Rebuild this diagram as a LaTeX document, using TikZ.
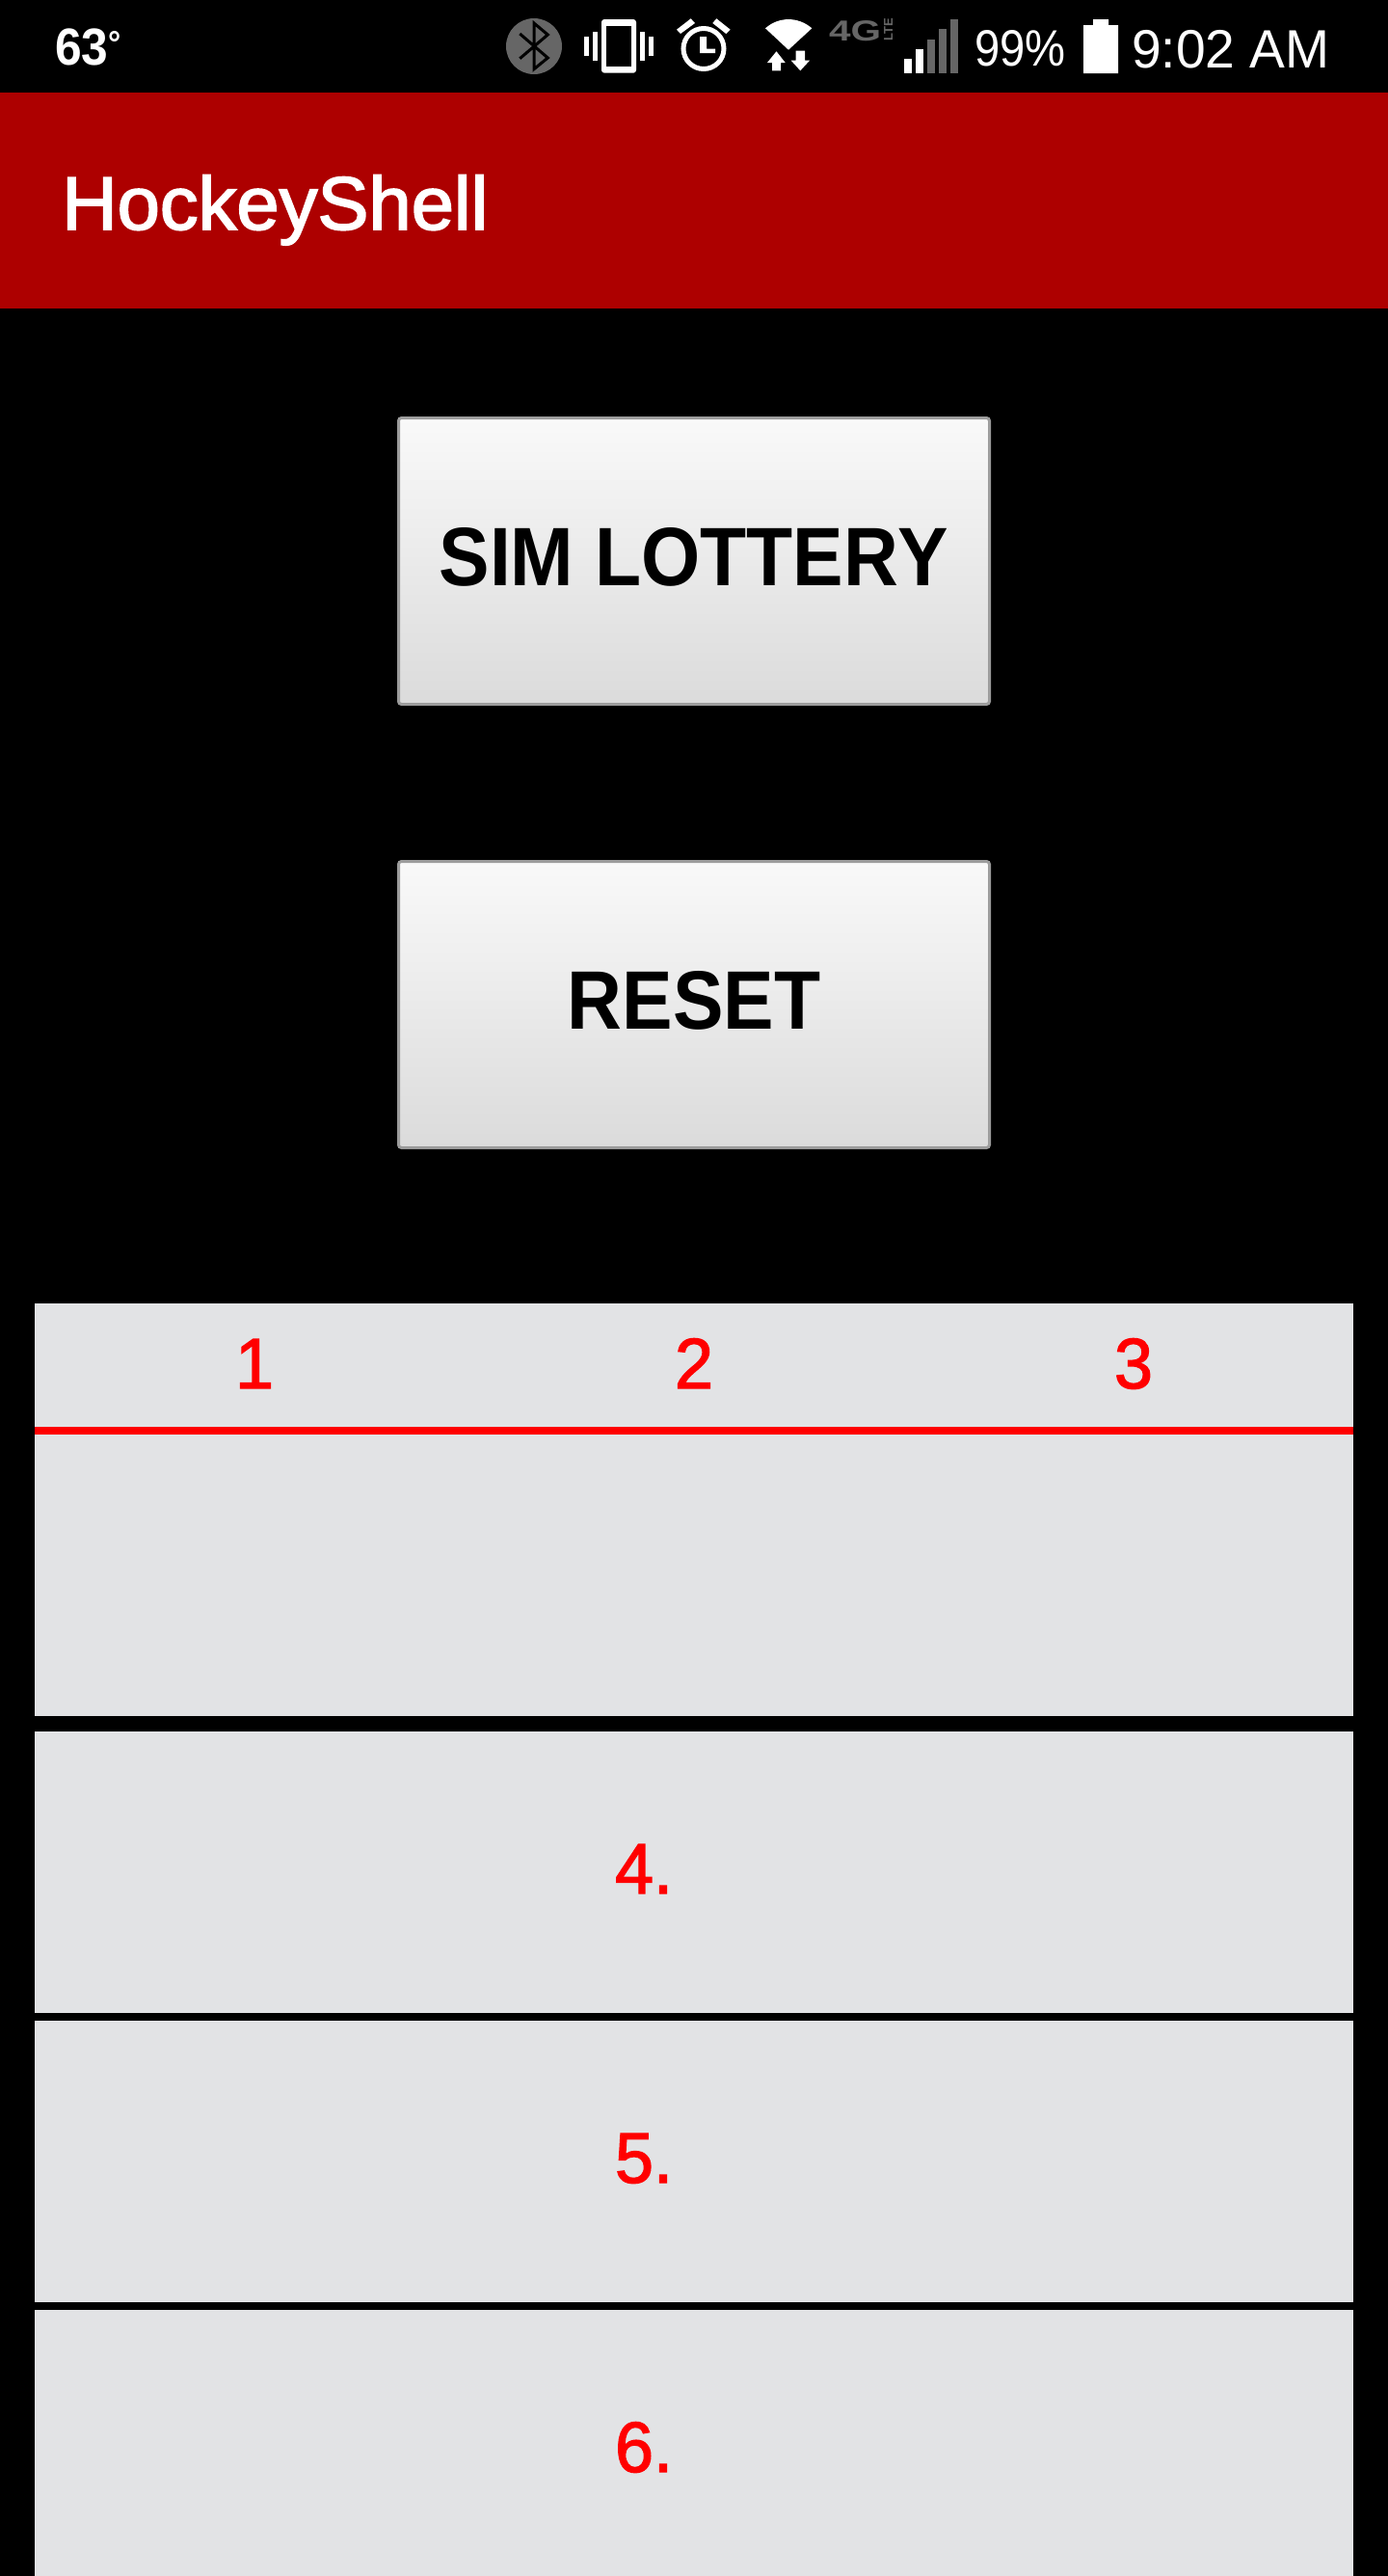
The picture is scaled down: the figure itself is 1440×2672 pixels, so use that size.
\documentclass[tikz,border=0pt]{standalone}
\usepackage{fontspec}
\usepackage{xcolor}
\usetikzlibrary{positioning}
\setmainfont{Liberation Sans}
\newfontfamily\titlefont[FakeBold=2.2,FakeStretch=1.02]{Liberation Sans}
\newfontfamily\numfont[FakeBold=1.8,FakeStretch=0.97]{Liberation Sans}
\newfontfamily\btnfont[FakeStretch=0.915,Kerning=Off]{Liberation Sans Bold}
\newfontfamily\tempfont[FakeStretch=0.92]{Liberation Sans Bold}
\newfontfamily\batfont[FakeStretch=0.89]{Liberation Sans}
\newfontfamily\clockfont[FakeStretch=0.985]{Liberation Sans}
\newfontfamily\nettfont[FakeStretch=1.35]{Liberation Sans Bold}
\definecolor{appred}{HTML}{AD0000}
\definecolor{cellgray}{HTML}{E2E3E5}
\definecolor{icongray}{HTML}{666666}
\definecolor{btnedge}{HTML}{9C9C9C}
\definecolor{btntop}{HTML}{F9F9F9}
\definecolor{btnbot}{HTML}{DBDBDB}

\begin{document}
\begin{tikzpicture}[
    x=1pt, y=-1pt,
    btn/.style={rectangle, rounded corners=3pt, draw=btnedge, line width=3pt, top color=btntop, bottom color=btnbot,
        minimum width=613pt, minimum height=297pt, inner sep=0pt, text depth=9pt, font=\fontsize{86}{86}\btnfont\selectfont},
    cell/.style={rectangle, fill=cellgray, minimum width=1368pt, inner sep=0pt},
    numlabel/.style={anchor=base, inner sep=0pt, text=red, font=\fontsize{74}{74}\numfont\selectfont},
    status/.style={anchor=base west, inner sep=0pt, text=white}
]
\useasboundingbox (0,0) rectangle (1440,2672);
\fill[black] (0,0) rectangle (1440,2672);

% App bar
\node[rectangle, fill=appred, minimum width=1440pt, minimum height=224pt, inner sep=0pt] (bar) at (720,208) {};
\node[status, font=\fontsize{78}{78}\titlefont\selectfont] (title) at (64,238) {HockeyShell};

% Status bar text
\node[status, font=\fontsize{54}{54}\tempfont\selectfont] (temp) at (57,67) {63{\fontsize{36}{36}\selectfont\raisebox{10pt}{°}}};
\node[status, font=\fontsize{53}{53}\batfont\selectfont] (batt) at (1011,68) {99\%};
\node[status, font=\fontsize{56}{56}\clockfont\selectfont] (clock) at (1174,70) {9:02 AM};

% Bluetooth
\fill[icongray] (554,48) circle (29);
\draw[black, line width=3pt] (539.3,35) -- (568.3,60) -- (554,71.7) -- (554,24) -- (568.3,36) -- (539.3,60.7);

% Vibrate
\fill[white, rounded corners=3pt] (624,20) rectangle (660,75.7);
\fill[black] (629.3,26.7) rectangle (654.7,69.3);
\foreach \x/\w in {606.3/4.7,673/4.7} {
    \fill[white] (\x,38) rectangle ++(\w,20.3);
}
\foreach \x/\w in {615/5,664/5} {
    \fill[white] (\x,32.7) rectangle ++(\w,30.6);
}

% Alarm
\draw[white, line width=5pt] (730,50.5) circle (21);
\fill[white] (726,38) rectangle (733,55) (726,50.7) rectangle (742,55);
\fill[white] (702,30.7) -- (716.7,19.3) -- (721,24) -- (706,35) -- cycle;
\fill[white] (757.7,30.7) -- (743.3,19.3) -- (739.3,24) -- (753.3,35) -- cycle;

% Wifi
\fill[white] (818,51.7) -- (794,29.3) .. controls (808,17) and (828,17) .. (842.3,29.3) -- cycle;
\fill[white] (805.5,53.3) -- (814.7,65) -- (810,65) -- (810,73.3) -- (801,73.3) -- (801,65) -- (796,65) -- cycle;
\fill[white] (830.3,73.3) -- (840,62.7) -- (835,62.7) -- (835,52.7) -- (825.7,52.7) -- (825.7,62.7) -- (820.7,62.7) -- cycle;

% Network type
\node[status, text=icongray, font=\fontsize{30}{30}\nettfont\selectfont] (net) at (860,42.7) {4G};
\node[anchor=base west, inner sep=0pt, rotate=90, text=icongray, font=\fontsize{13}{13}\bfseries\selectfont] (lte) at (926,43) {LTE};

% Signal bars
\foreach \x/\t/\c in {938/61/white,950/51/white,962/41/icongray,974/30/icongray,986/20/icongray} {
    \fill[\c] (\x,\t) rectangle ++(8,75.7-\t);
}

% Battery
\fill[white] (1124,26) rectangle (1160,76) (1134,20) rectangle (1150,26);

% Buttons
\node[btn] (sim) at (720,582) {SIM LOTTERY};
\node[btn] (reset) at (720,1042) {RESET};

% Header cell
\node[cell, minimum height=428pt] (head) at (720,1566) {};
\node[rectangle, fill=red, minimum width=1368pt, minimum height=8pt, inner sep=0pt] (rule) at (720,1484) {};
\foreach \n/\x in {1/264,2/720,3/1176} {
    \node[numlabel] (top\n) at (\x,1440) {\n};
}

% Lower rows
\foreach \n/\cy/\h/\by in {4/1942/292/1964,5/2242/292/2264,6/2534/276/2564} {
    \node[cell, minimum height=\h pt] (row\n) at (720,\cy) {};
    \node[numlabel] (lab\n) at (668,\by) {\n.};
}

\end{tikzpicture}
\end{document}
